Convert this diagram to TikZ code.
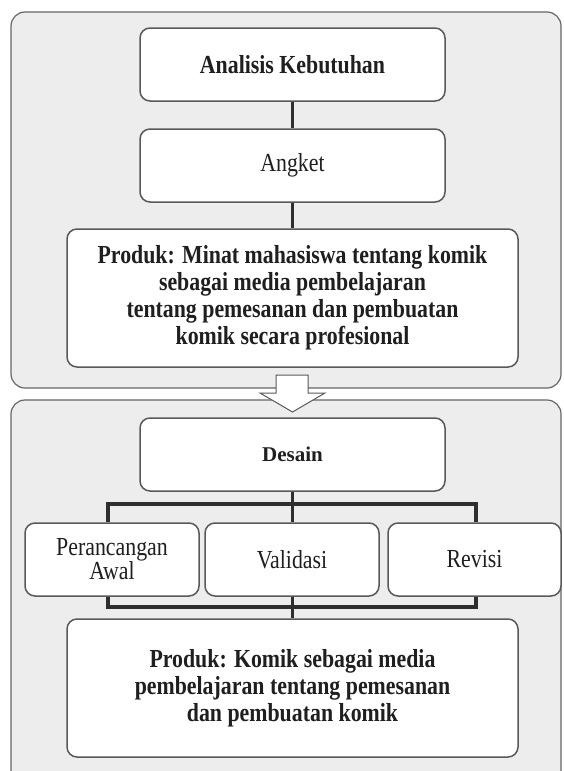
\documentclass[tikz,border=0pt]{standalone}
\usepackage{fontspec}
\setmainfont{Liberation Serif}[FakeStretch=0.84]
\newfontfamily\plainserif{Liberation Serif}
\begin{document}
\begin{tikzpicture}[x=1pt,y=-1pt,
  outerbox/.style={draw=black!60, fill=black!7, rounded corners=14pt, line width=1.2pt},
  inbox/.style={draw=black!65, fill=white, rounded corners=10pt, line width=1.5pt,
    align=center, inner sep=0pt, text=black!88, font=\fontsize{26}{27}\selectfont},
  link/.style={line width=3.8pt, draw=black!82, line join=miter},
  blockarrow/.style={draw=black!65, fill=white, line width=1pt, line join=miter}]
\useasboundingbox (0,0) rectangle (563,771);
% outer panels
\draw[outerbox] (11,12) rectangle (561,388);
\draw[outerbox] (11,400) rectangle (561,800);
% top panel
\node[inbox, minimum width=305pt, minimum height=73pt] (ak) at (292.5,64.5) {\textbf{Analisis Kebutuhan}};
\node[inbox, minimum width=305pt, minimum height=73pt] (ang) at (292.5,165.5) {Angket};
\node[inbox, minimum width=451pt, minimum height=138pt] (p1) at (292.5,298) {\textbf{Produk: Minat mahasiswa tentang komik}\\\textbf{sebagai media pembelajaran}\\\textbf{tentang pemesanan dan pembuatan}\\\textbf{komik secara profesional}};
\draw[link] (ak) -- (ang);
\draw[link] (ang) -- (p1);
% arrow between panels
\draw[blockarrow] (276,375) -- (308,375) -- (308,393) -- (325,393) -- (292.5,412) -- (260,393) -- (276,393) -- cycle;
% bottom panel
\node[inbox, minimum width=305pt, minimum height=73pt] (des) at (292.5,454.5) {{\plainserif\bfseries\fontsize{21}{23}\selectfont Desain}};
\node[inbox, minimum width=174pt, minimum height=73pt] (pa) at (112,559.5) {Perancangan\\[-3pt]Awal};
\node[inbox, minimum width=174pt, minimum height=73pt] (val) at (292,559.5) {Validasi};
\node[inbox, minimum width=173pt, minimum height=73pt] (rev) at (474.5,559.5) {Revisi};
\node[inbox, minimum width=451pt, minimum height=138pt] (p2) at (292.5,688) {\textbf{Produk: Komik sebagai media}\\\textbf{pembelajaran tentang pemesanan}\\\textbf{dan pembuatan komik}};
% tree connectors
\coordinate (tl) at (108,504);
\coordinate (tc) at (292.5,504);
\coordinate (tr) at (476,504);
\coordinate (bl) at (108,607);
\coordinate (bc) at (292.5,607);
\coordinate (br) at (476,607);
\draw[link] (des.south) -- (tc);
\draw[link] (pa.north -| tl) -- (tl) -- (tr) -- (rev.north -| tr);
\draw[link] (tc) -- (val.north -| tc);
\draw[link] (pa.south -| bl) -- (bl) -- (br) -- (rev.south -| br);
\draw[link] (val.south -| bc) -- (p2.north -| bc);
\end{tikzpicture}
\end{document}
